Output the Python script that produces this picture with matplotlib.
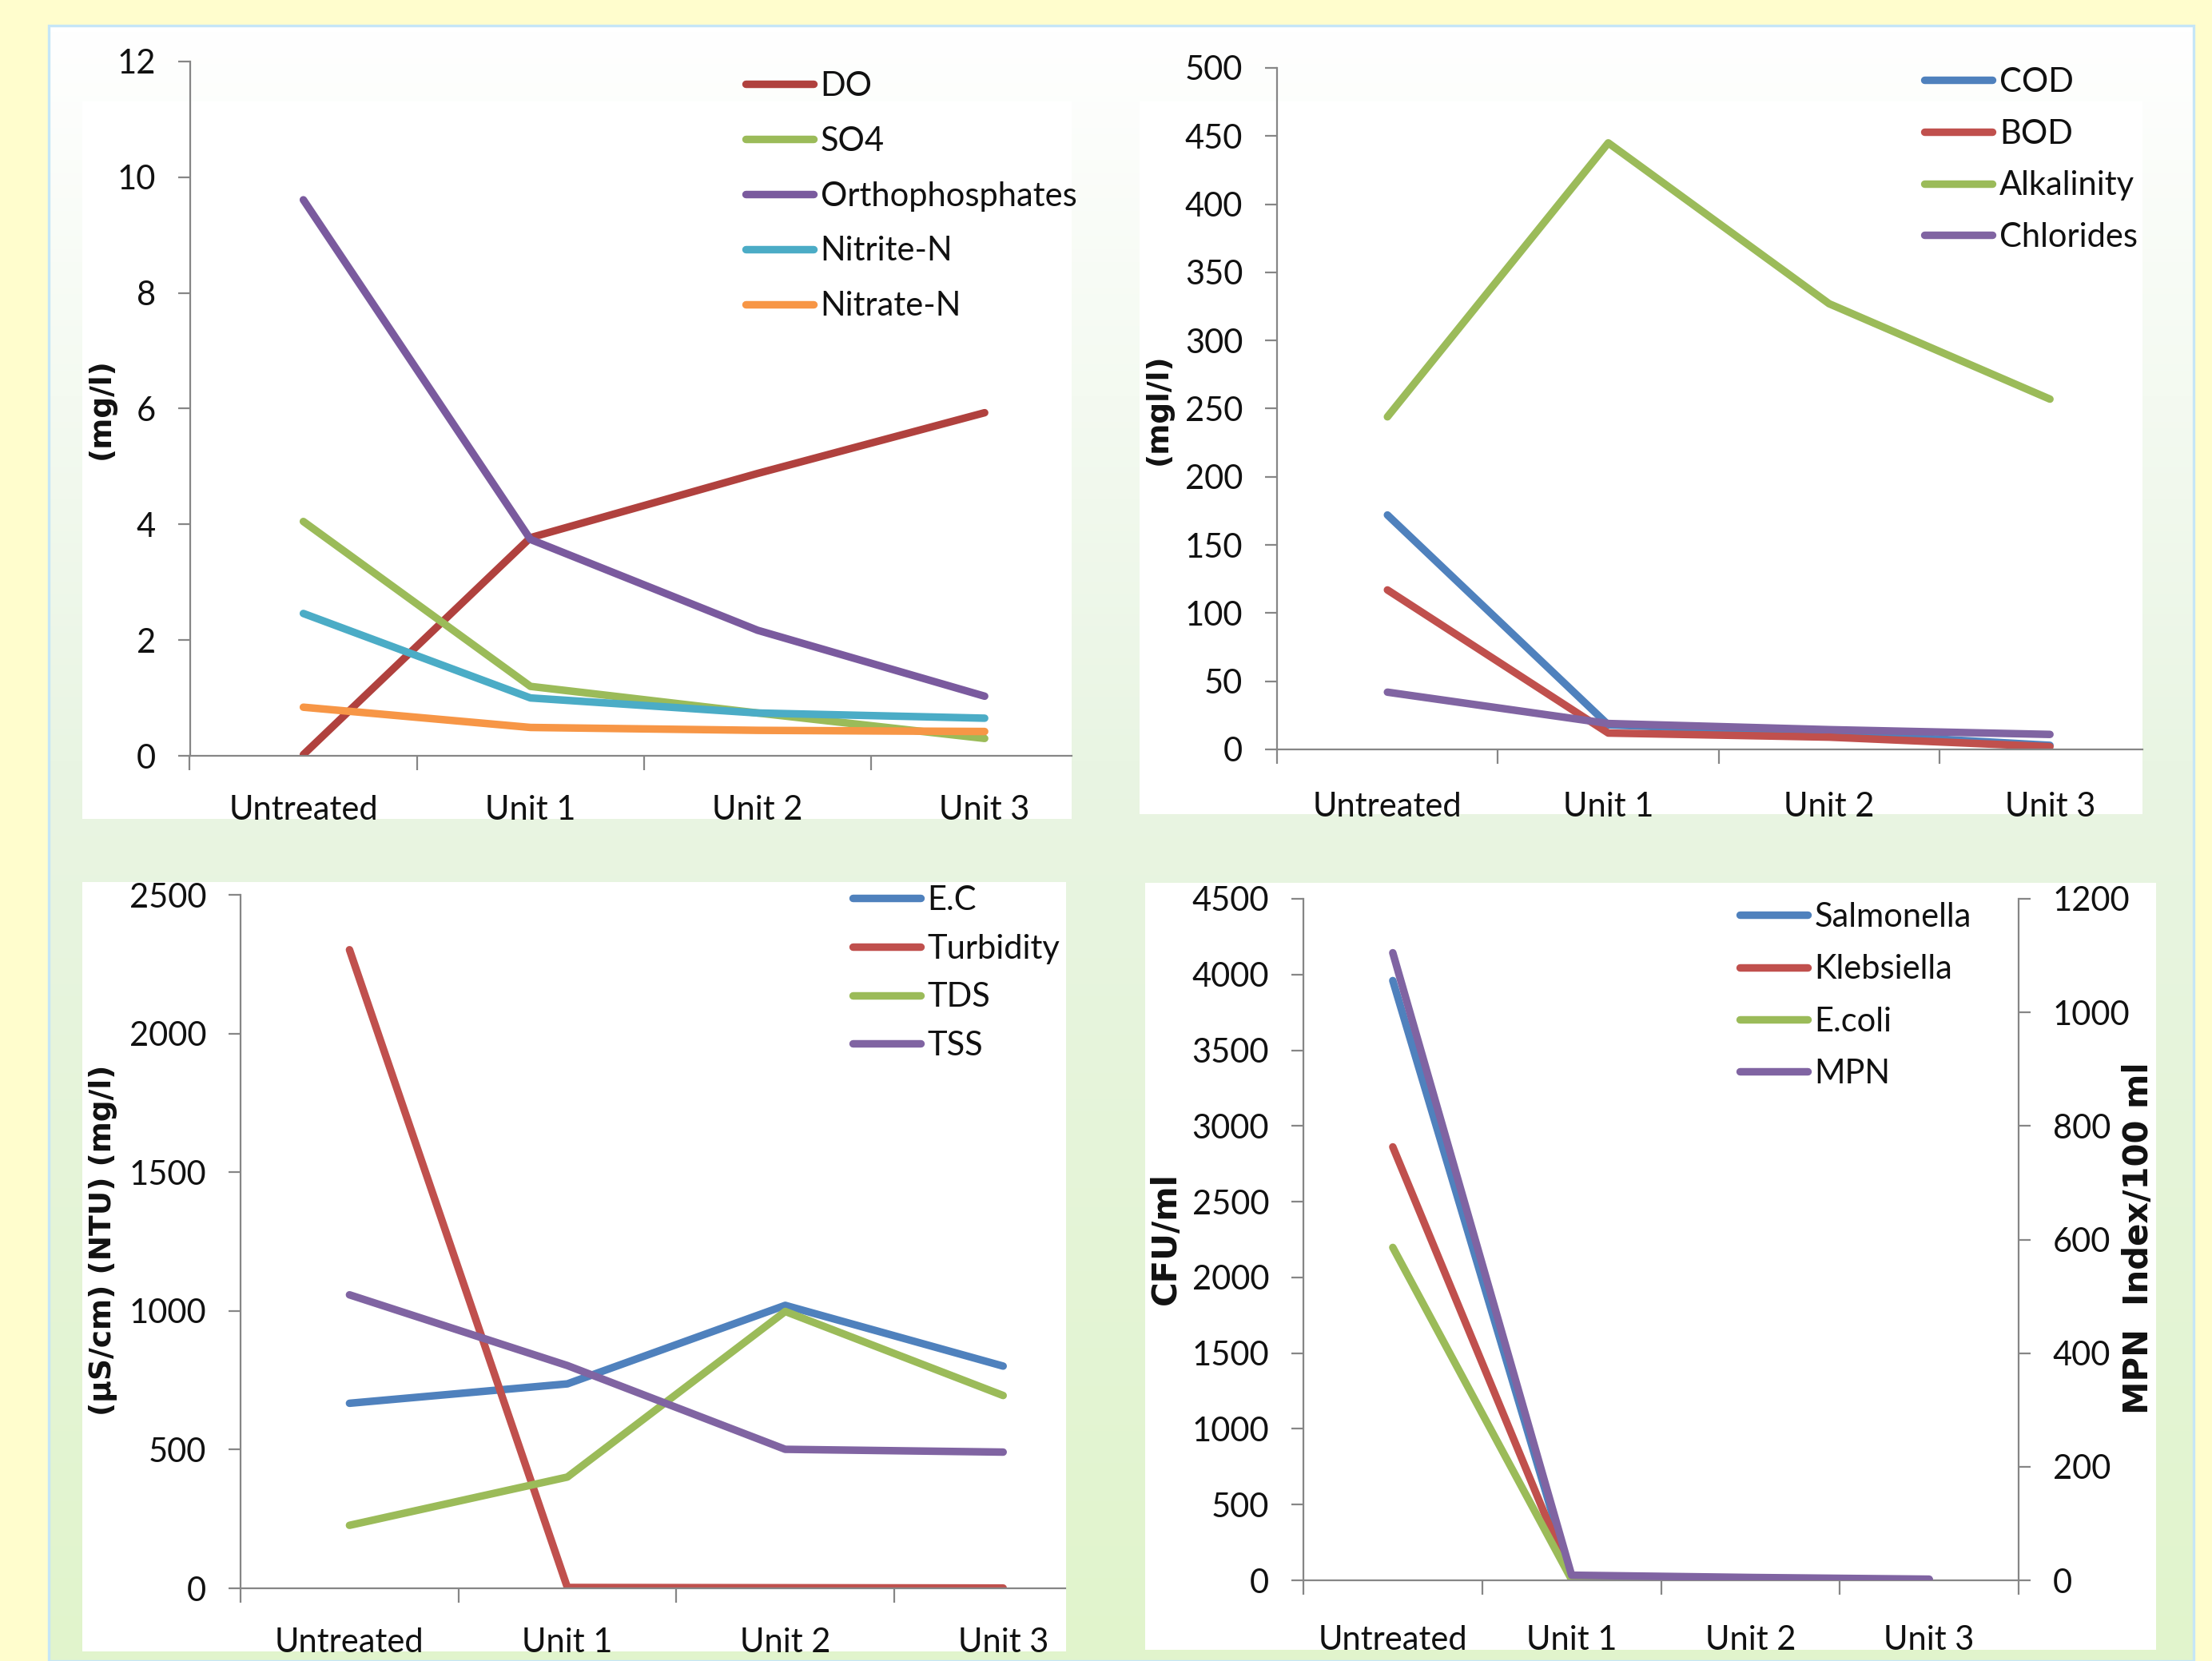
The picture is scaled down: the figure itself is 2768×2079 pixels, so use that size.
import numpy as np
import matplotlib
matplotlib.use('Agg')
import matplotlib.pyplot as plt
from matplotlib.patches import Rectangle
from matplotlib.colors import LinearSegmentedColormap

# ---------------- data ----------------
categories = ['Untreated', 'Unit 1', 'Unit 2', 'Unit 3']

# top-left panel (mg/l)
do_vals = [0.02, 3.77, 4.88, 5.93]
so4_vals = [4.05, 1.20, 0.74, 0.30]
ortho_vals = [9.61, 3.74, 2.17, 1.03]
nitrite_vals = [2.46, 1.00, 0.74, 0.65]
nitrate_vals = [0.84, 0.49, 0.44, 0.42]

# top-right panel (mgl/l)
cod_vals = [172, 18, 12, 3]
bod_vals = [117, 12, 9, 2]
alk_vals = [244, 445, 327, 257]
chl_vals = [42, 19, 14.5, 11]

# bottom-left panel
ec_vals = [667, 737, 1020, 801]
turb_vals = [2302, 3, 2, 1]
tds_vals = [227, 401, 998, 695]
tss_vals = [1058, 803, 501, 491]

# bottom-right panel
salm_vals = [3960, 12, 5, 2]
kleb_vals = [2862, 8, 4, 1]
ecoli_vals = [2198, 5, 2, 1]
mpn_vals = [1105, 9, 5, 2]

# ---------------- style ----------------
FONT = ['Lato', 'DejaVu Sans']
plt.rcParams['font.family'] = FONT
plt.rcParams['lines.solid_capstyle'] = 'round'
plt.rcParams['lines.solid_joinstyle'] = 'round'
W, H = 2768, 2079
DPI = 200
AXC = '#868686'
TXT = '#111111'
LW = 3.4
FS = 15

BLUE, RED, GREEN, PURPLE = '#4F81BD', '#C0504D', '#9BBB59', '#8064A2'
DORED, TEAL, ORANGE = '#B0413E', '#4BACC6', '#F79646'
ORTHO = '#7A5A9E'

fig = plt.figure(figsize=(W / DPI, H / DPI), dpi=DPI, facecolor='#FFFDCD')


def frect(x0, y0, x1, y1):
    return [x0 / W, 1 - y1 / H, (x1 - x0) / W, (y1 - y0) / H]


# background panel with gradient
pan = fig.add_axes(frect(61, 32, 2745, 2079), zorder=-10)
cmap = LinearSegmentedColormap.from_list(
    'bg', [(0, '#FFFFFF'), (0.45, '#E9F5E3'), (1, '#E1F4CC')])
pan.imshow(np.linspace(0, 1, 256).reshape(-1, 1), aspect='auto', cmap=cmap)
pan.set_axis_off()
fig.add_artist(Rectangle((61 / W, 0), (2745 - 61) / W, (2079 - 32) / H,
                         transform=fig.transFigure, fill=False,
                         ec='#C5E6F7', lw=1.2, zorder=-9))

# white chart areas
for (x0, y0, x1, y1) in [(103, 127, 1341, 1025), (1426, 127, 2681, 1019),
                         (103, 1104, 1334, 2067), (1433, 1105, 2698, 2065)]:
    r = frect(x0, y0, x1, y1)
    fig.add_artist(Rectangle((r[0], r[1]), r[2], r[3], transform=fig.transFigure,
                             fc='white', ec='none', zorder=-8))


def setup(ax, ymax, ystep, xmax, xpad=17.5):
    ax.set_facecolor('none')
    ax.set_xlim(-0.5, xmax)
    ax.set_ylim(0, ymax)
    for s in ['top', 'right']:
        ax.spines[s].set_visible(False)
    for s in ['left', 'bottom']:
        ax.spines[s].set_color(AXC)
        ax.spines[s].set_linewidth(0.8)
    ax.set_xticks([b for b in [-0.5, 0.5, 1.5, 2.5, 3.5] if b <= xmax + 1e-9])
    ax.set_xticks(range(len(categories)), minor=True)
    ax.set_xticklabels(categories, minor=True)
    ax.tick_params(axis='x', which='major', direction='out', length=6.5,
                   width=0.8, color=AXC, labelbottom=False)
    ax.tick_params(axis='x', which='minor', length=0, pad=xpad,
                   labelsize=FS, labelcolor=TXT)
    ax.set_yticks(np.arange(0, ymax + ystep / 2, ystep))
    ax.tick_params(axis='y', direction='out', length=5.4, width=0.8,
                   color=AXC, pad=10, labelsize=FS, labelcolor=TXT)


def ylabel(ax, text, x, y, size=13.5):
    ax.set_ylabel(text, fontfamily='DejaVu Sans', fontweight='bold',
                  fontsize=size, color=TXT, va='center', ha='center')
    ax.yaxis.set_label_coords(x / W, 1 - y / H, transform=fig.transFigure)


def legend(ax, handles, x0, yc, spacing):
    fpx = FS * DPI / 72
    row = 38.7
    ax.legend(handles=handles, loc='upper left',
              bbox_to_anchor=(x0 / W, 1 - (yc - 15) / H),
              bbox_transform=fig.transFigure, frameon=False, fontsize=FS,
              handlelength=2.05, handletextpad=0.2,
              labelspacing=(spacing - row) / fpx, borderpad=0, borderaxespad=0,
              labelcolor=TXT)


x = np.arange(len(categories))

# ---------------- top-left ----------------
ax1 = fig.add_axes(frect(237.5, 77, 1341, 946))
setup(ax1, 12, 2, 3.383)
h = []
h += ax1.plot(x, do_vals, color=DORED, lw=LW, label='DO')
h += ax1.plot(x, so4_vals, color=GREEN, lw=LW, label='SO4')
h += ax1.plot(x, ortho_vals, color=ORTHO, lw=LW, label='Orthophosphates')
h += ax1.plot(x, nitrite_vals, color=TEAL, lw=LW, label='Nitrite-N')
h += ax1.plot(x, nitrate_vals, color=ORANGE, lw=LW, label='Nitrate-N')
legend(ax1, h, 933, 104, 69.5)
ylabel(ax1, '(mg/l)', 127, 512)

# ---------------- top-right ----------------
ax2 = fig.add_axes(frect(1598, 85, 2681, 938))
setup(ax2, 500, 50, 3.419, xpad=19)
h = []
h += ax2.plot(x, cod_vals, color=BLUE, lw=LW, label='COD')
h += ax2.plot(x, bod_vals, color=RED, lw=LW, label='BOD')
h += ax2.plot(x, alk_vals, color=GREEN, lw=LW, label='Alkalinity')
h += ax2.plot(x, chl_vals, color=PURPLE, lw=LW, label='Chlorides')
legend(ax2, h, 2408, 99, 65.3)
ylabel(ax2, '(mgl/l)', 1450, 512)

# ---------------- bottom-left ----------------
ax3 = fig.add_axes(frect(301, 1120, 1333, 1988))
setup(ax3, 2500, 500, 3.285)
h = []
h += ax3.plot(x, ec_vals, color=BLUE, lw=LW, label='E.C')
h += ax3.plot(x, turb_vals, color=RED, lw=LW, label='Turbidity')
h += ax3.plot(x, tds_vals, color=GREEN, lw=LW, label='TDS')
h += ax3.plot(x, tss_vals, color=PURPLE, lw=LW, label='TSS')
legend(ax3, h, 1067, 1123, 61.3)
ylabel(ax3, '(µS/cm) (NTU) (mg/l)', 129, 1552)

# ---------------- bottom-right ----------------
ax4 = fig.add_axes(frect(1631, 1125, 2526, 1978))
setup(ax4, 4500, 500, 3.5, xpad=20)
h = []
h += ax4.plot(x, salm_vals, color=BLUE, lw=LW, label='Salmonella')
h += ax4.plot(x, kleb_vals, color=RED, lw=LW, label='Klebsiella')
h += ax4.plot(x, ecoli_vals, color=GREEN, lw=LW, label='E.coli')
ax4b = ax4.twinx()
ax4b.set_facecolor('none')
ax4b.set_ylim(0, 1200)
ax4b.set_yticks(np.arange(0, 1201, 200))
for s in ['top', 'left', 'bottom']:
    ax4b.spines[s].set_visible(False)
ax4b.spines['right'].set_color(AXC)
ax4b.spines['right'].set_linewidth(0.8)
ax4b.tick_params(axis='y', direction='out', length=5.4, width=0.8,
                 color=AXC, pad=10, labelsize=FS, labelcolor=TXT)
h += ax4b.plot(x, mpn_vals, color=PURPLE, lw=LW, label='MPN')
legend(ax4b, h, 2177, 1144, 66)
ylabel(ax4, 'CFU/ml', 1459, 1550, size=15)
ylabel(ax4b, 'MPN  Index/100 ml', 2676, 1550, size=15)

fig.savefig('out.png', dpi=DPI, facecolor=fig.get_facecolor())
